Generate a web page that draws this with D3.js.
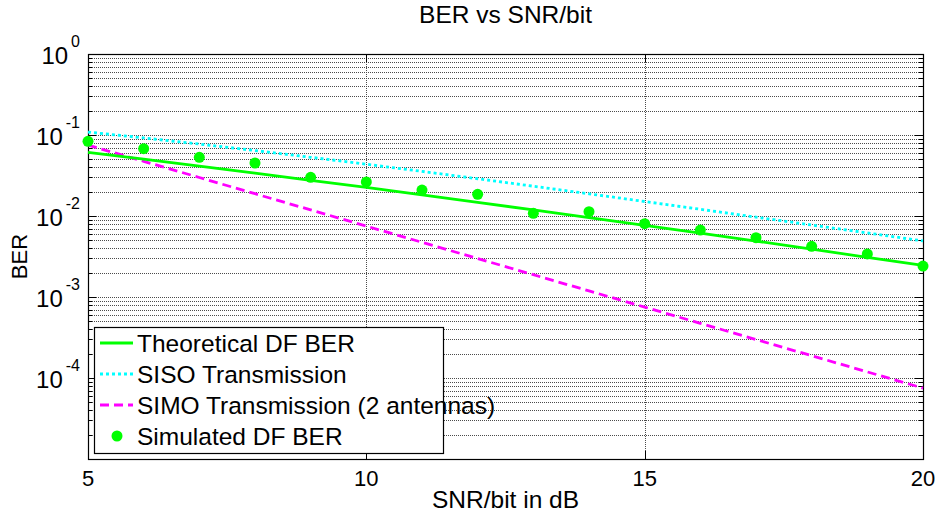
<!DOCTYPE html>
<html>
<head>
<meta charset="utf-8">
<script src="https://cdn.jsdelivr.net/npm/d3@7"></script>
<style>
  body { margin: 0; background: #fff; }
  svg { display: block; font-family: "Liberation Sans", Arial, sans-serif; }
</style>
</head>
<body>
<svg id="chart" width="937" height="514"></svg>
<script>
// ---- data ----
const snr = [5, 6, 7, 8, 9, 10, 11, 12, 13, 14, 15, 16, 17, 18, 19, 20];
const theoreticalDF = [0.0611, 0.0503, 0.0413, 0.0338, 0.0276, 0.0225, 0.0182, 0.01474,
  0.01189, 0.00957, 0.00768, 0.00614, 0.00490, 0.00390, 0.00309, 0.00245];
const siso = [0.10866, 0.09207, 0.07728, 0.06430, 0.05310, 0.04356, 0.03553, 0.02884,
  0.02332, 0.01879, 0.01510, 0.01210, 0.00968, 0.00774, 0.00618, 0.00492];
const simo = [0.075, 0.04732, 0.02986, 0.01884, 0.01189, 0.0075, 0.004732, 0.002986,
  0.001884, 0.001189, 0.00075, 0.0004732, 0.0002986, 0.0001884, 0.0001189, 0.000075];
const simulatedDF = [0.0836, 0.0678, 0.0530, 0.0451, 0.0300, 0.0263, 0.0209, 0.0185,
  0.0108, 0.0113, 0.00803, 0.00671, 0.00540, 0.00422, 0.00340, 0.00241];
const xTicks = [5, 10, 15, 20];
const yDecadeExp = [0, -1, -2, -3, -4];
const legendLabels = ["Theoretical DF BER", "SISO Transmission",
  "SIMO Transmission (2 antennas)", "Simulated DF BER"];
const titleText = "BER vs SNR/bit";
const xLabelText = "SNR/bit in dB";
const yLabelText = "BER";

// ---- layout ----
const L = 88, R = 923, T = 54, B = 459;
const svg = d3.select("#chart");
const x = d3.scaleLinear().domain([5, 20]).range([L, R]);
const y = d3.scaleLog().domain([1e-5, 1]).range([B, T]);

const minorVals = [];
for (let k = -5; k <= -1; k++) for (let m = 2; m <= 9; m++) minorVals.push(m * Math.pow(10, k));
const majorVals = [];
for (let k = -5; k <= 0; k++) majorVals.push(Math.pow(10, k));

// grid
const grid = svg.append("g").attr("stroke", "#000").attr("stroke-width", 1)
  .attr("stroke-dasharray", "1,1").attr("opacity", 0.7).attr("shape-rendering", "crispEdges");
grid.selectAll("line.h").data(minorVals.concat(majorVals)).join("line")
  .attr("x1", L).attr("x2", R)
  .attr("y1", d => Math.round(y(d)) + 0.5).attr("y2", d => Math.round(y(d)) + 0.5);
grid.selectAll("line.v").data(xTicks.slice(1, -1)).join("line")
  .attr("y1", T).attr("y2", B)
  .attr("x1", d => Math.round(x(d)) + 0.5).attr("x2", d => Math.round(x(d)) + 0.5);

// axes (inside ticks)
function styleAxis(g) {
  g.select(".domain").remove();
  g.selectAll("line").attr("stroke", "#000").attr("shape-rendering", "crispEdges");
  g.selectAll("text").remove();
}
svg.append("g").attr("transform", `translate(${L},0)`)
  .call(d3.axisLeft(y).tickValues(majorVals).tickSize(-8).tickFormat("")).call(styleAxis);
svg.append("g").attr("transform", `translate(${L},0)`)
  .call(d3.axisLeft(y).tickValues(minorVals).tickSize(-4).tickFormat("")).call(styleAxis);
svg.append("g").attr("transform", `translate(${R},0)`)
  .call(d3.axisRight(y).tickValues(majorVals).tickSize(-8).tickFormat("")).call(styleAxis);
svg.append("g").attr("transform", `translate(${R},0)`)
  .call(d3.axisRight(y).tickValues(minorVals).tickSize(-4).tickFormat("")).call(styleAxis);
svg.append("g").attr("transform", `translate(0,${B})`)
  .call(d3.axisBottom(x).tickValues(xTicks).tickSize(-8).tickFormat("")).call(styleAxis);
svg.append("g").attr("transform", `translate(0,${T})`)
  .call(d3.axisTop(x).tickValues(xTicks).tickSize(-8).tickFormat("")).call(styleAxis);

// frame
svg.append("rect").attr("x", L + 0.5).attr("y", T + 0.5).attr("width", R - L).attr("height", B - T)
  .attr("fill", "none").attr("stroke", "#000").attr("stroke-width", 1.2);

// x tick labels
svg.append("g").selectAll("text").data(xTicks).join("text")
  .attr("x", d => x(d)).attr("y", B + 27).attr("text-anchor", "middle")
  .attr("font-size", 22).text(d => d);

// y tick labels
const yl = svg.append("g").selectAll("text").data(yDecadeExp).join("text")
  .attr("x", 80).attr("y", d => y(Math.pow(10, d)) + 10).attr("text-anchor", "end")
  .attr("font-size", 24);
yl.append("tspan").text("10");
yl.append("tspan").attr("dx", 3).attr("dy", -17).attr("font-size", 16)
  .text(d => d === 0 ? "0" : "-" + Math.abs(d));

// title & labels
svg.append("text").attr("x", (L + R) / 2).attr("y", 23).attr("text-anchor", "middle")
  .attr("font-size", 24.5).text(titleText);
svg.append("text").attr("x", (L + R) / 2).attr("y", 508).attr("text-anchor", "middle")
  .attr("font-size", 24.5).text(xLabelText);
svg.append("text").attr("transform", `translate(27,${(T + B) / 2}) rotate(-90)`)
  .attr("text-anchor", "middle").attr("font-size", 22).text(yLabelText);

// lines
const plot = svg.append("g");
const line = vals => d3.line().x((d, i) => x(snr[i])).y(d => y(d))(vals);
plot.append("path").attr("d", line(siso)).attr("fill", "none").attr("stroke", "#00ffff")
  .attr("stroke-width", 2.8).attr("stroke-dasharray", "3,3");
plot.append("path").attr("d", line(simo)).attr("fill", "none").attr("stroke", "#ff00ff")
  .attr("stroke-width", 2.8).attr("stroke-dasharray", "9,5");
plot.append("path").attr("d", line(theoreticalDF)).attr("fill", "none").attr("stroke", "#00ff00")
  .attr("stroke-width", 2.8);
plot.selectAll("circle").data(simulatedDF).join("circle")
  .attr("cx", (d, i) => x(snr[i])).attr("cy", d => y(d)).attr("r", 5.5).attr("fill", "#00ff00");

// legend
const lg = svg.append("g");
lg.append("rect").attr("x", 94.5).attr("y", 327.5).attr("width", 349).attr("height", 126)
  .attr("fill", "#fff").attr("stroke", "#000").attr("stroke-width", 1.2);
const rowY = [343, 374, 405, 436];
const styles = [
  { stroke: "#00ff00", dash: null },
  { stroke: "#00ffff", dash: "3,3" },
  { stroke: "#ff00ff", dash: "9,5" },
  { stroke: null, dash: null }
];
legendLabels.forEach((lab, i) => {
  if (styles[i].stroke) {
    lg.append("line").attr("x1", 100).attr("x2", 133).attr("y1", rowY[i]).attr("y2", rowY[i])
      .attr("stroke", styles[i].stroke).attr("stroke-width", 2.8)
      .attr("stroke-dasharray", styles[i].dash);
  } else {
    lg.append("circle").attr("cx", 117).attr("cy", rowY[i]).attr("r", 5.5).attr("fill", "#00ff00");
  }
  lg.append("text").attr("x", 137).attr("y", rowY[i] + 8.5).attr("font-size", 24.5).text(lab);
});
</script>
</body>
</html>
